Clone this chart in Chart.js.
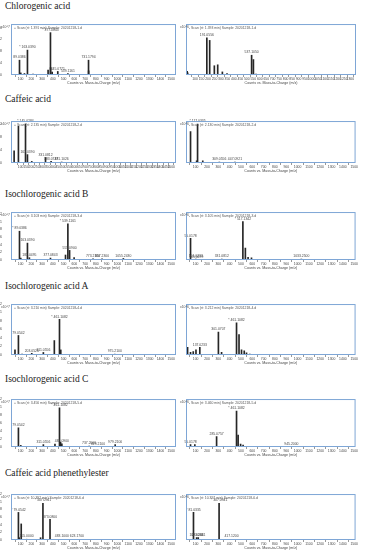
<!DOCTYPE html>
<html>
<head>
<meta charset="utf-8">
<script src="https://cdn.jsdelivr.net/npm/chart.js@4.4.1/dist/chart.umd.min.js"></script>
<style>
  body { margin:0; background:#fff; width:367px; height:550px; position:relative; overflow:hidden; }
  .t { position:absolute; left:5px; font:9.5px/1 "Liberation Serif", serif; color:#222; white-space:nowrap; }
  canvas { position:absolute; }
</style>
</head>
<body>
<script>
// section titles
const titles = ["Chlorogenic acid", "Caffeic acid", "Isochlorogenic acid B", "Isochlorogenic acid A", "Isochlorogenic acid C", "Caffeic acid phenethylester"];

// x tick labels (m/z)
const xTicks100 = [100,200,300,400,500,600,700,800,900,1000,1100,1200,1300,1400,1500];
const xTicks50 = [100,150,200,250,300,350,400,450,500,550,600,650,700,750,800,850,900,950,1000,1050,1100,1150,1200,1250,1300,1350,1400,1450,1500];
const xTicks50s = [100,150,200,250,300,350,400,450,500,550,600,650,700,750,800,850,900,950,1000,1050,1100,1150,1200,1250,1300];

// y tick labels
const yTicks16 = [0,0.2,0.4,0.6,0.8,1,1.2,1.4,1.6];
const yTicks15 = [0,0.25,0.5,0.75,1,1.25,1.5];
const yTicks12 = [0,0.2,0.4,0.6,0.8,1,1.2];

// Chlorogenic acid
const cgaMz = [89.0386, 101.0233, 135.0441, 163.0390, 215.0300, 355.1024, 377.0843, 378.0876, 393.0583, 445.0771, 539.1161, 731.1794, 732.1827];
const cgaInt = [0.50, 0.07, 0.05, 0.84, 0.03, 0.17, 1.43, 0.25, 0.10, 0.12, 0.05, 0.50, 0.14];
const cgaLab = ["89.0386", "", "", "* 163.0390", "", "", "* 377.0843", "", "", "445.0771", "539.1161", "731.1794", ""];
const cga2Mz = [39.0230, 43.0178, 191.0556, 213.0519, 249.0600, 275.0541, 311.0900, 347.0800, 537.1050, 551.0900, 571.1000];
const cga2Int = [0.12, 0.07, 1.20, 1.12, 0.30, 0.33, 0.10, 0.05, 0.64, 0.50, 0.03];
const cga2Lab = ["", "", "191.0556", "", "", "", "", "", "537.1050", "", ""];

// Caffeic acid
const caMz = [39.0230, 79.0542, 145.0284, 163.0390, 203.0315, 331.0812, 383.0737, 481.1026];
const caInt = [0.38, 1.14, 1.21, 0.26, 0.05, 0.17, 0.05, 0.03];
const caLab = ["", "", "* 145.0284", "163.0390", "", "331.0812", "383.0737", "481.1026"];
const ca2Mz = [55.0178, 109.0284, 117.0335, 163.0390, 309.0556, 447.0921];
const ca2Int = [1.05, 0.07, 1.30, 0.07, 0.03, 0.03];
const ca2Lab = ["", "", "* 117.0335", "", "309.0556", "447.0921"];

// Isochlorogenic acid B
const icbMz = [89.0386, 101.0233, 163.0390, 181.0495, 377.0843, 517.1342, 539.1161, 555.0900, 597.1200, 773.2100, 857.2300, 1055.2430];
const icbInt = [0.75, 0.05, 0.44, 0.06, 0.05, 0.13, 0.94, 0.25, 0.06, 0.03, 0.03, 0.04];
const icbLab = ["* 89.0386", "", "163.0390", "181.0495", "377.0843", "", "* 539.1161", "555.0900", "", "773.2100", "857.2300", "1055.2430"];
const icb2Mz = [55.0178, 101.0233, 105.0699, 331.0812, 517.1342, 539.1161, 563.1000, 593.1300, 1033.2500];
const icb2Int = [0.63, 0.03, 0.02, 0.03, 1.12, 0.35, 0.08, 0.06, 0.03];
const icb2Lab = ["55.0178", "101.0233", "105.0699", "331.0812", "* 517.1342", "", "", "", "1033.2500"];

// Isochlorogenic acid A
const icaMz = [47.0491, 79.0542, 112.9855, 203.0526, 311.0556, 413.0870, 461.1082, 473.1000, 975.2100];
const icaInt = [0.12, 0.46, 0.02, 0.04, 0.06, 0.34, 0.84, 0.12, 0.02];
const icaLab = ["", "79.0542", "", "203.0526", "311.0556", "", "* 461.1082", "", "975.2100"];
const ica2Mz = [29.0386, 55.0178, 79.0542, 103.0542, 137.0233, 301.0707, 329.0656, 461.1082, 483.0900, 505.1000, 529.1200, 549.1000, 578.1300];
const ica2Int = [0.18, 0.06, 0.08, 0.12, 0.18, 0.54, 0.06, 0.76, 0.48, 0.12, 0.10, 0.05, 0.02];
const ica2Lab = ["", "", "", "", "137.0233", "301.0707", "", "* 461.1082", "", "", "", "", ""];

// Isochlorogenic acid C
const iccMz = [79.0542, 101.0233, 311.0556, 419.0800, 461.1082, 471.1000, 483.0900, 737.2000, 819.2100, 979.2100];
const iccInt = [0.48, 0.04, 0.06, 0.07, 0.98, 0.12, 0.08, 0.02, 0.01, 0.06];
const iccLab = ["79.0542", "", "311.0556", "", "* 461.1082", "", "483.0900", "737.2000", "819.2100", "979.2100"];
const icc2Mz = [55.0178, 93.0335, 285.0757, 461.1082, 475.0900, 497.1000, 519.1100, 945.2000];
const icc2Int = [0.06, 0.06, 0.26, 0.90, 0.30, 0.07, 0.05, 0.015];
const icc2Lab = ["55.0178", "", "285.0757", "* 461.1082", "", "", "", "945.2000"];

// Caffeic acid phenethylester
const capeMz = [79.0542, 87.0441, 105.0699, 155.0000, 285.1121, 307.0941, 373.0800, 483.1000, 623.1700];
const capeInt = [0.72, 0.06, 0.42, 0.02, 0.06, 0.96, 0.54, 0.02, 0.02];
const capeLab = ["* 79.0542", "", "", "155.0000", "", "* 307.0941", "373.0800", "483.1000", "623.1700"];
const cape2Mz = [81.0335, 109.0284, 123.0441, 307.0941, 417.1200];
const cape2Int = [0.72, 0.06, 0.06, 0.96, 0.02];
const cape2Lab = ["* 81.0335", "109.0284", "123.0441", "* 307.0941", "417.1200"];

const boxTop = [24, 121, 212, 304, 399, 494];
const boxBot = [75, 163, 260, 355, 447, 540];
const titleTop = [1.5, 94.5, 189.5, 282, 375, 468.5];

const panels = [
  [{mz:cgaMz, y:cgaInt, lab:cgaLab, xmin:10, xmax:1545, xt:xTicks100, ymax:1.72, yt:yTicks16, exp:"x10^7", scan:"+ Scan (rt: 1.391 min) Sample: 20201218-1.d"},
   {mz:cga2Mz, y:cga2Int, lab:cga2Lab, xmin:30, xmax:1344, xt:xTicks50s, ymax:1.65, yt:yTicks15, exp:"x10^6", scan:"- Scan (rt: 1.393 min) Sample: 20201218-1.d"}],
  [{mz:caMz, y:caInt, lab:caLab, xmin:10, xmax:1545, xt:xTicks50, ymax:1.3, yt:yTicks12, exp:"x10^7", scan:"+ Scan (rt: 2.135 min) Sample: 20201218-2.d"},
   {mz:ca2Mz, y:ca2Int, lab:ca2Lab, xmin:15, xmax:1512, xt:xTicks100, ymax:1.4, yt:yTicks12, exp:"x10^6", scan:"- Scan (rt: 2.130 min) Sample: 20201218-2.d"}],
  [{mz:icbMz, y:icbInt, lab:icbLab, xmin:10, xmax:1545, xt:xTicks100, ymax:1.25, yt:yTicks12, exp:"x10^7", scan:"+ Scan (rt: 3.103 min) Sample: 20201218-3.d"},
   {mz:icb2Mz, y:icb2Int, lab:icb2Lab, xmin:15, xmax:1512, xt:xTicks100, ymax:1.4, yt:yTicks12, exp:"x10^6", scan:"- Scan (rt: 3.105 min) Sample: 20201218-3.d"}],
  [{mz:icaMz, y:icaInt, lab:icaLab, xmin:10, xmax:1545, xt:xTicks100, ymax:1.2, yt:yTicks12, exp:"x10^7", scan:"+ Scan (rt: 3.210 min) Sample: 20201218-4.d"},
   {mz:ica2Mz, y:ica2Int, lab:ica2Lab, xmin:15, xmax:1512, xt:xTicks100, ymax:1.2, yt:yTicks12, exp:"x10^6", scan:"- Scan (rt: 3.212 min) Sample: 20201218-4.d"}],
  [{mz:iccMz, y:iccInt, lab:iccLab, xmin:10, xmax:1545, xt:xTicks100, ymax:1.2, yt:yTicks12, exp:"x10^7", scan:"+ Scan (rt: 3.456 min) Sample: 20201218-5.d"},
   {mz:icc2Mz, y:icc2Int, lab:icc2Lab, xmin:15, xmax:1512, xt:xTicks100, ymax:1.2, yt:yTicks12, exp:"x10^6", scan:"- Scan (rt: 3.460 min) Sample: 20201218-5.d"}],
  [{mz:capeMz, y:capeInt, lab:capeLab, xmin:10, xmax:1545, xt:xTicks100, ymax:1.2, yt:yTicks12, exp:"x10^7", scan:"+ Scan (rt: 10.392 min) Sample: 20201218-6.d"},
   {mz:cape2Mz, y:cape2Int, lab:cape2Lab, xmin:15, xmax:1512, xt:xTicks100, ymax:1.2, yt:yTicks12, exp:"x10^6", scan:"- Scan (rt: 10.397 min) Sample: 20201218-6.d"}]
];

// draws peak labels, the blue frame, scan header and exponent
const specDeco = {
  id: "specDeco",
  afterDatasetsDraw(chart, args, o) {
    const ctx = chart.ctx, a = chart.chartArea;
    const meta = chart.getDatasetMeta(0);
    ctx.save();
    ctx.font = '3.4px "Liberation Sans", Arial, sans-serif';
    ctx.fillStyle = "#444";
    ctx.textAlign = "center";
    ctx.textBaseline = "bottom";
    o.labels.forEach((t, i) => {
      if (!t) return;
      const el = meta.data[i];
      ctx.fillText(t, el.x, el.y - 1);
    });
    ctx.strokeStyle = "#7ea6d6";
    ctx.lineWidth = 1;
    ctx.strokeRect(a.left + 0.5, a.top + 0.5, a.width - 1, a.height - 1);
    ctx.textAlign = "left";
    ctx.textBaseline = "top";
    ctx.fillStyle = "#555";
    ctx.fillText(o.scan, a.left + 3, a.top + 2);
    ctx.fillText(o.exp, 1, a.top + 1);
    ctx.restore();
  }
};

function makeSpec(p, left, width, top, height, yw) {
  const c = document.createElement("canvas");
  c.width = width; c.height = height;
  c.style.left = left + "px"; c.style.top = top + "px";
  document.body.appendChild(c);
  new Chart(c, {
    type: "bar",
    data: { datasets: [{
      data: p.mz.map((m, i) => ({ x: m, y: p.y[i] })),
      backgroundColor: "#262626",
      barThickness: 1
    }] },
    options: {
      responsive: false, animation: false, devicePixelRatio: 1,
      layout: { padding: { top: 3, right: 2, left: 0, bottom: 0 } },
      plugins: { legend: { display: false }, tooltip: { enabled: false },
        specDeco: { labels: p.lab, scan: p.scan, exp: p.exp } },
      scales: {
        x: { type: "linear", min: p.xmin, max: p.xmax, offset: false,
          grid: { drawOnChartArea: false, tickLength: 2, color: "#999" }, border: { display: false },
          afterBuildTicks: s => { s.ticks = p.xt.map(v => ({ value: v })); },
          afterFit: s => { s.height = 10; },
          ticks: { autoSkip: false, maxRotation: 0, padding: 0, font: { size: 3.4 }, color: "#444", callback: v => v },
          title: { display: true, text: "Counts vs. Mass-to-Charge (m/z)", font: { size: 3.6 }, color: "#444", padding: 0 } },
        y: { min: 0, max: p.ymax,
          grid: { display: false }, border: { display: false },
          afterBuildTicks: s => { s.ticks = p.yt.map(v => ({ value: v })); },
          afterFit: s => { s.width = yw; },
          ticks: { padding: 1, font: { size: 3.4 }, color: "#444", callback: v => +v.toFixed(2) } }
      }
    },
    plugins: [specDeco]
  });
}

titles.forEach((t, r) => {
  const d = document.createElement("div");
  d.className = "t"; d.textContent = t; d.style.top = titleTop[r] + "px";
  document.body.appendChild(d);
  const top = boxTop[r] - 3, h = boxBot[r] - boxTop[r] + 3 + 10;
  makeSpec(panels[r][0], 0, 178, top, h, 11);
  makeSpec(panels[r][1], 179, 179, top, h, 7);
});
</script>
</body>
</html>
